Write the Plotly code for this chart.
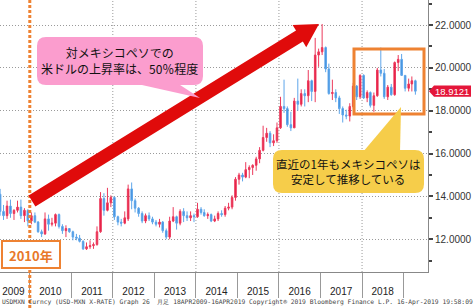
import math
import pandas as pd
import plotly.graph_objects as go

# ---------------- data (monthly USD/MXN candles, Apr 2009 - Apr 2019) ----------------
opens = [
    14.10, 13.30, 13.10, 13.55, 13.20, 13.35, 13.50, 13.10, 13.35,                      # 2009 Apr-Dec
    12.85, 13.10, 12.80, 12.35, 12.25, 12.95, 12.70, 12.75, 13.15, 12.60, 12.40, 12.50,  # 2010
    12.35, 12.10, 12.05, 11.90, 11.55, 11.65, 11.70, 11.75, 12.35, 13.90, 13.35, 13.70,  # 2011
    13.95, 13.05, 12.80, 12.75, 12.95, 14.35, 13.80, 13.45, 13.20, 12.85, 13.10, 12.95,  # 2012
    12.80, 12.70, 12.80, 12.40, 12.10, 12.85, 13.05, 12.75, 13.30, 13.10, 13.00, 13.10,  # 2013
    13.05, 13.40, 13.25, 13.10, 13.15, 12.85, 12.95, 13.20, 13.15, 13.45, 13.50, 13.95,  # 2014
    14.80, 15.00, 14.90, 15.25, 15.35, 15.45, 15.75, 16.15, 16.75, 16.95, 16.50, 16.60,  # 2015
    17.20, 18.20, 18.10, 17.35, 17.20, 18.45, 18.30, 18.80, 18.70, 19.40, 18.90, 20.60,  # 2016
    20.75, 20.95, 19.95, 18.80, 18.85, 18.60, 18.10, 17.80, 17.75, 18.20, 19.15, 18.65,  # 2017
    19.65, 18.60, 18.85, 18.25, 18.70, 19.90, 19.75, 18.65, 19.10, 18.75, 20.25, 20.40,  # 2018
    19.65, 19.05, 19.25, 19.40,                                                          # 2019 Jan-Apr
]
highs = [
    14.35, 13.60, 13.80, 13.85, 13.40, 13.80, 13.85, 13.45, 13.40,
    13.25, 13.25, 12.85, 12.45, 13.25, 13.15, 13.00, 13.20, 13.20, 12.70, 12.65, 12.50,
    12.40, 12.25, 12.20, 11.95, 11.85, 11.95, 11.85, 12.60, 14.20, 14.15, 14.40, 14.05,
    14.00, 13.10, 12.95, 13.30, 14.55, 14.65, 13.90, 13.50, 13.30, 13.20, 13.25, 13.05,
    12.90, 12.95, 12.85, 12.50, 13.05, 13.50, 13.10, 13.40, 13.45, 13.30, 13.30, 13.20,
    13.70, 13.50, 13.40, 13.25, 13.20, 13.10, 13.30, 13.35, 13.55, 13.70, 14.05, 14.90,
    15.10, 15.10, 15.60, 15.45, 15.50, 15.85, 16.30, 17.30, 17.20, 17.05, 16.90, 17.45,
    18.65, 19.45, 18.20, 17.95, 18.60, 19.50, 19.00, 19.00, 19.90, 19.45, 21.40, 20.90,
    22.05, 21.00, 20.20, 19.45, 19.00, 18.70, 18.20, 18.05, 18.35, 19.30, 19.20, 19.70,
    19.70, 18.95, 18.90, 18.85, 20.00, 20.95, 19.95, 19.20, 19.25, 20.30, 20.60, 20.65,
    19.65, 19.50, 19.60, 19.45,
]
lows = [
    13.10, 12.90, 12.95, 13.00, 12.90, 13.25, 12.95, 12.80, 12.60,
    12.70, 12.75, 12.30, 12.10, 12.20, 12.40, 12.60, 12.60, 12.50, 12.25, 12.10, 12.30,
    11.95, 11.95, 11.85, 11.50, 11.50, 11.55, 11.55, 11.70, 12.30, 13.10, 13.30, 13.50,
    12.90, 12.65, 12.60, 12.70, 12.85, 13.40, 13.25, 13.05, 12.75, 12.75, 12.85, 12.70,
    12.60, 12.55, 12.30, 12.00, 12.00, 12.80, 12.45, 12.65, 12.80, 12.85, 12.85, 12.80,
    13.00, 13.15, 13.05, 12.95, 12.80, 12.80, 12.85, 13.05, 13.05, 13.35, 13.40, 13.80,
    14.55, 14.70, 14.85, 14.85, 15.00, 15.20, 15.55, 16.10, 16.55, 16.30, 16.35, 16.50,
    17.15, 17.90, 17.25, 17.05, 17.20, 18.00, 18.20, 18.20, 18.40, 18.45, 18.40, 20.05,
    20.60, 19.80, 18.75, 18.50, 18.40, 17.85, 17.45, 17.60, 17.50, 18.10, 18.50, 18.55,
    18.55, 18.40, 18.15, 17.95, 18.65, 19.60, 18.55, 18.50, 18.70, 18.70, 19.85, 19.65,
    18.90, 18.90, 18.90, 18.75,
]
closes = [
    13.30, 13.10, 13.55, 13.20, 13.35, 13.50, 13.10, 13.35, 12.85,
    13.10, 12.80, 12.35, 12.25, 12.95, 12.70, 12.75, 13.15, 12.60, 12.40, 12.50, 12.35,
    12.10, 12.05, 11.90, 11.55, 11.65, 11.70, 11.75, 12.35, 13.90, 13.35, 13.70, 13.95,
    13.05, 12.80, 12.75, 13.00, 14.35, 13.80, 13.45, 13.20, 12.85, 13.10, 12.95, 12.80,
    12.70, 12.80, 12.40, 12.10, 12.85, 13.05, 12.75, 13.30, 13.10, 13.00, 13.10, 13.05,
    13.40, 13.25, 13.10, 13.15, 12.85, 12.95, 13.20, 13.15, 13.45, 13.50, 13.95, 14.80,
    15.00, 14.90, 15.25, 15.35, 15.45, 15.75, 16.15, 16.75, 16.95, 16.50, 16.60, 17.20,
    18.20, 18.10, 17.35, 17.20, 18.45, 18.30, 18.80, 18.70, 19.40, 18.90, 20.60, 20.75,
    20.95, 19.95, 18.80, 18.85, 18.60, 18.10, 17.80, 17.75, 18.20, 19.15, 18.65, 19.65,
    18.60, 18.85, 18.25, 18.70, 19.90, 19.75, 18.65, 19.10, 18.75, 20.25, 20.40, 19.65,
    19.05, 19.25, 19.40, 18.9121,
]
months = pd.date_range("2009-04-01", "2019-04-01", freq="MS") + pd.Timedelta(days=14)

year_labels = ["2009", "2010", "2011", "2012", "2013", "2014", "2015", "2016", "2017", "2018"]
year_label_pos = ["2009-08-10"] + [f"{y}-07-01" for y in year_labels[1:]]
year_starts = [f"{y}-01-01" for y in range(2009, 2021)]
grid_years = ["2012-01-01", "2014-01-01", "2016-01-01", "2018-01-01"]
y_ticks = [12, 14, 16, 18, 20, 22]
last_price = closes[-1]

note_pink = "対メキシコペソでの<br>米ドルの上昇率は、50％程度"
note_yellow = "直近の1年もメキシコペソは<br>安定して推移している"
note_year = "2010年"
footer = ("USDMXN Curncy (USD-MXN X-RATE) Graph 26  月足 18APR2009-16APR2019 "
          "Copyright® 2019 Bloomberg Finance L.P. 16-Apr-2019 19:58:09")

# ---------------- layout helpers ----------------
W, H = 476, 308
ML, MR, MT, MB = 0, 48, 0, 36
PW, PH = W - ML - MR, H - MT - MB
Y0, Y1 = 10.47, 23.17


def fx(x):
    return x / PW


def fy(y):
    return 1 - y / PH


def poly(pts):
    return "M " + " L ".join(f"{fx(x):.5f},{fy(y):.5f}" for x, y in pts) + " Z"


def rrect(x0, y0, x1, y1, r):
    P = lambda x, y: f"{fx(x):.5f},{fy(y):.5f}"
    return (f"M {P(x0 + r, y0)} L {P(x1 - r, y0)} Q {P(x1, y0)} {P(x1, y0 + r)} "
            f"L {P(x1, y1 - r)} Q {P(x1, y1)} {P(x1 - r, y1)} L {P(x0 + r, y1)} "
            f"Q {P(x0, y1)} {P(x0, y1 - r)} L {P(x0, y0 + r)} Q {P(x0, y0)} {P(x0 + r, y0)} Z")


fig = go.Figure()
fig.add_trace(go.Candlestick(
    x=months, open=opens, high=highs, low=lows, close=closes,
    increasing=dict(line=dict(color="#EC3A5C", width=1), fillcolor="#E3173E"),
    decreasing=dict(line=dict(color="#5EA6EA", width=1), fillcolor="#3C8CDC"),
    whiskerwidth=0, showlegend=False, hoverinfo="skip",
))

shapes = []
for g in grid_years:
    shapes.append(dict(type="line", xref="x", yref="paper", x0=g, x1=g, y0=0, y1=1,
                       line=dict(color="#9a9a9a", width=1, dash="1px,2px"), layer="below"))
shapes.append(dict(type="line", xref="x", yref="paper", x0="2010-01-01", x1="2010-01-01",
                   y0=fy(308), y1=1, line=dict(color="#EE8232", width=3, dash="3px,2px")))
shapes.append(dict(type="rect", xref="paper", yref="paper", x0=fx(2), x1=fx(60), y0=fy(268), y1=fy(241),
                   fillcolor="white", line=dict(color="#EE8232", width=2)))
sx, sy, tx, ty = 32, 201, 319, 24
L = math.hypot(tx - sx, ty - sy)
ux, uy = (tx - sx) / L, (ty - sy) / L
nx, ny = -uy, ux
w, h, hl = 6.5, 13, 23
bx, by = tx - ux * hl, ty - uy * hl
arrow = [(sx + nx * w, sy + ny * w), (bx + nx * w, by + ny * w), (bx + nx * h, by + ny * h), (tx, ty),
         (bx - nx * h, by - ny * h), (bx - nx * w, by - ny * w), (sx - nx * w, sy - ny * w)]
shapes.append(dict(type="path", xref="paper", yref="paper", path=poly(arrow),
                   fillcolor="#E00B0B", line=dict(width=0)))
shapes.append(dict(type="path", xref="paper", yref="paper", path=rrect(37, 37, 203, 85, 9),
                   fillcolor="#FB9DCE", line=dict(width=0)))
shapes.append(dict(type="path", xref="paper", yref="paper", path=poly([(133, 83), (177, 83), (200, 98)]),
                   fillcolor="#FB9DCE", line=dict(width=0)))
shapes.append(dict(type="rect", xref="paper", yref="paper", x0=fx(354), x1=fx(424), y0=fy(114), y1=fy(49),
                   line=dict(color="#EE8232", width=3)))
shapes.append(dict(type="path", xref="paper", yref="paper", path=rrect(273, 150, 424, 193, 9),
                   fillcolor="#F6CD4A", line=dict(width=0)))
shapes.append(dict(type="path", xref="paper", yref="paper", path=poly([(363, 152), (401, 107), (400, 152)]),
                   fillcolor="#F6CD4A", line=dict(width=0)))
hh = 5.6 / (PH / (Y1 - Y0))
tag = (f"M {fx(429):.5f},{last_price:.4f} L {fx(434):.5f},{last_price + hh:.4f} "
       f"L {fx(471):.5f},{last_price + hh:.4f} L {fx(471):.5f},{last_price - hh:.4f} "
       f"L {fx(434):.5f},{last_price - hh:.4f} Z")
shapes.append(dict(type="path", xref="paper", yref="y", path=tag, fillcolor="#E4163A", line=dict(width=0)))

cjk = "Noto Sans CJK JP"
C = dict(xanchor="center", yanchor="middle", showarrow=False)
annotations = [
    dict(xref="paper", yref="paper", x=fx(120), y=fy(61), text=note_pink, align="center",
         font=dict(family=cjk, size=12, color="#111"), **C),
    dict(xref="paper", yref="paper", x=fx(348), y=fy(171), text=note_yellow, align="center",
         font=dict(family=cjk, size=11.5, color="#111"), **C),
    dict(xref="paper", yref="paper", x=fx(31), y=fy(255), text=f"<b>{note_year}</b>",
         font=dict(family=cjk, size=13, color="#E8782A"), **C),
    dict(xref="paper", yref="y", x=fx(452), y=last_price, text=f"{last_price:.4f}",
         font=dict(family="Liberation Sans", size=9.5, color="white"), **C),
    dict(xref="paper", yref="paper", x=0, y=fy(302), xanchor="left", yanchor="middle", text=footer,
         showarrow=False, font=dict(family="DejaVu Sans Mono", size=6.3, color="#444")),
]

fig.update_layout(
    width=W, height=H, autosize=False,
    margin=dict(l=ML, r=MR, t=MT, b=MB, pad=0, autoexpand=False),
    paper_bgcolor="white", plot_bgcolor="white",
    showlegend=False,
    shapes=shapes, annotations=annotations,
    xaxis=dict(
        type="date", range=["2009-04-14", "2019-08-04"], automargin=False,
        rangeslider=dict(visible=False),
        tickmode="array", tickvals=year_label_pos, ticktext=year_labels,
        ticks="outside", ticklen=10, tickcolor="rgba(0,0,0,0)",
        tickfont=dict(family="Liberation Sans", size=10, color="#222"),
        showgrid=False, zeroline=False,
        showline=True, linecolor="#888", linewidth=1,
        minor=dict(tickmode="array", tickvals=year_starts, ticks="outside", ticklen=25,
                   tickcolor="#999", tickwidth=1, showgrid=False),
    ),
    yaxis=dict(
        side="right", range=[Y0, Y1], automargin=False,
        tickmode="array", tickvals=y_ticks, tickformat=".4f",
        ticks="outside", ticklen=4, tickwidth=1.5, tickcolor="#444",
        tickfont=dict(family="Liberation Sans", size=10, color="#333"),
        showgrid=True, gridcolor="#9a9a9a", gridwidth=1, griddash="1px,2px",
        zeroline=False, showline=True, linecolor="#888", linewidth=1,
        minor=dict(dtick=1, tick0=0, ticks="outside", ticklen=3, tickcolor="#444", showgrid=False),
    ),
)

fig.write_html("out.html")
